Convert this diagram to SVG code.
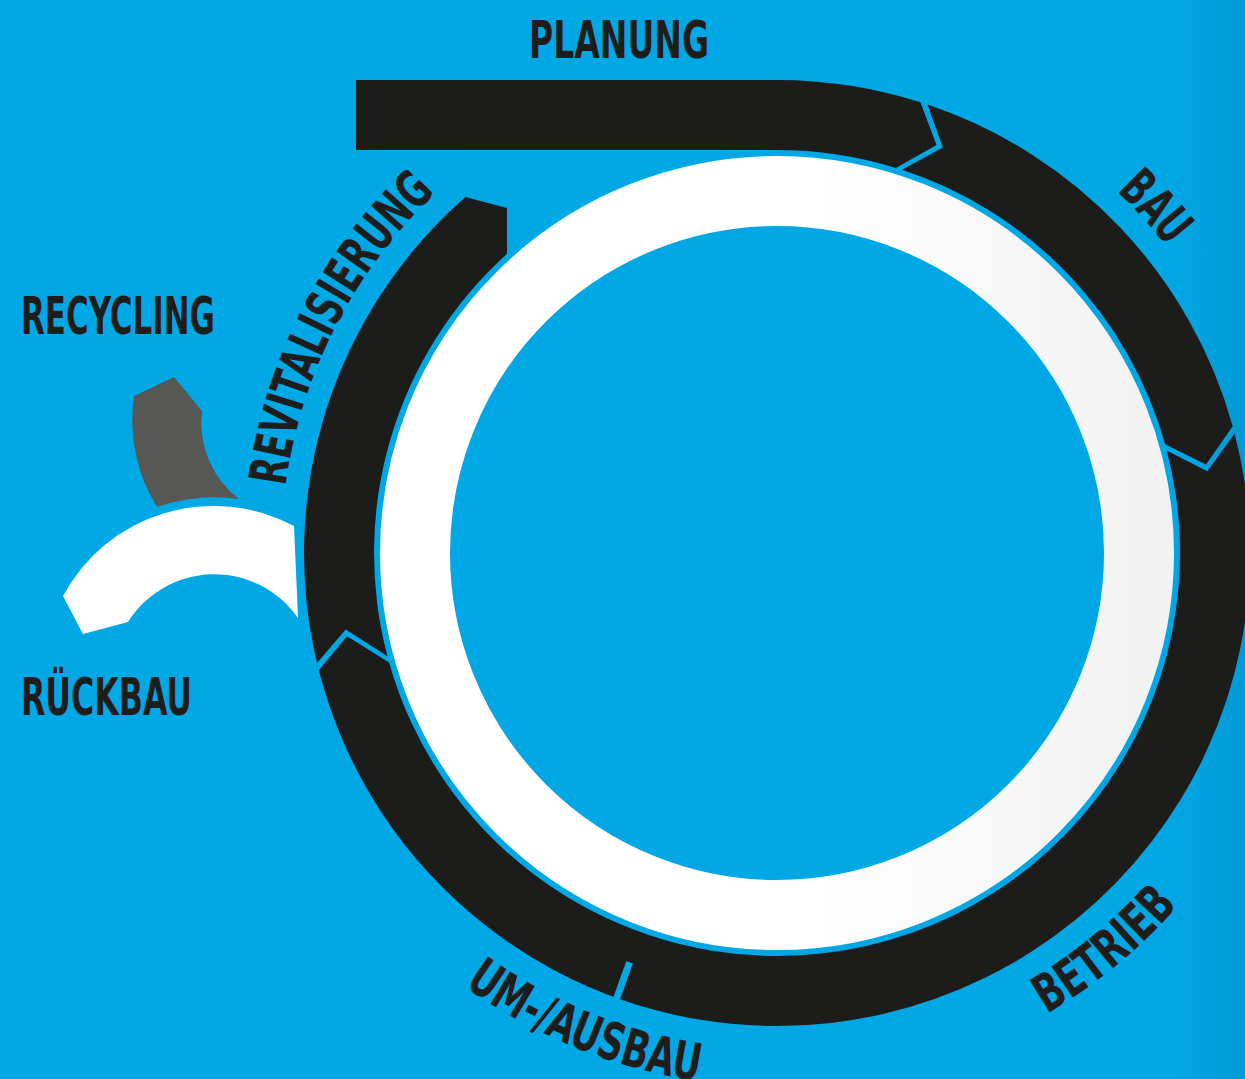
<svg xmlns="http://www.w3.org/2000/svg" width="1245" height="1079" viewBox="0 0 1245 1079">
  <defs>
    <linearGradient id="bg" x1="0" y1="0" x2="1" y2="0">
      <stop offset="0" stop-color="#00a8e6"/>
      <stop offset="0.94" stop-color="#00a7e5"/>
      <stop offset="1" stop-color="#009ad6"/>
    </linearGradient>
    <linearGradient id="ringGrad" x1="0" y1="0" x2="1" y2="0">
      <stop offset="0" stop-color="#ffffff"/>
      <stop offset="0.55" stop-color="#ffffff"/>
      <stop offset="1" stop-color="#f2f2f2"/>
    </linearGradient>
    <path id="cw" d="M 281,553 A 496 496 0 1 1 1273,553 A 496 496 0 1 1 281,553"/>
    <path id="ccw" d="M 243,553 A 534 534 0 1 0 1311,553 A 534 534 0 1 0 243,553"/>
    <style>
      .seg { fill: #1c1c1a; }
      .lbl { fill: #1d1d1b; font-family: "Liberation Sans Narrow", "DejaVu Sans Condensed", Roboto, sans-serif; font-weight: 700; font-stretch: condensed; font-size: 52px; }
      .gap { stroke: #00a8e6; stroke-width: 7; fill: none; }
    </style>
  </defs>

  <rect x="0" y="0" width="1245" height="1079" fill="url(#bg)"/>

  <g id="ring">
    <circle cx="777" cy="553" r="362" fill="none" stroke="url(#ringGrad)" stroke-width="70"/>
  </g>

  <g id="planung">
    <path class="seg" d="M 356,80 L 777,80 A 473 473 0 0 1 920.4,102.3 L 936.5,145.1 L 895.8,167.9 A 403 403 0 0 0 777,150 L 356,150 Z"/>
    <text class="lbl" x="529" y="58" textLength="180" lengthAdjust="spacingAndGlyphs">PLANUNG</text>
  </g>

  <g id="bau">
    <path class="seg" d="M 927.5,104.6 A 473 473 0 0 1 1232.7,426.2 L 1206.0,464.6 L 1165.1,444.3 A 403 403 0 0 0 901.9,169.8 L 942.8,147.6 Z"/>
    <text class="lbl"><textPath href="#cw" startOffset="1191" text-anchor="middle" textLength="76" lengthAdjust="spacingAndGlyphs">BAU</textPath></text>
  </g>

  <g id="betrieb">
    <path class="seg" d="M 1234.6,433.4 A 473 473 0 0 1 777,1026 A 473 473 0 0 1 318.8,670.2 L 347.0,636.2 L 389.1,662.4 A 403 403 0 0 0 777,956 A 403 403 0 0 0 1166.7,450.4 L 1207.3,471.3 Z"/>
    <text class="lbl"><textPath href="#ccw" startOffset="1207" text-anchor="middle" textLength="171" lengthAdjust="spacingAndGlyphs">BETRIEB</textPath></text>
  </g>

  <g id="umausbau">
    <line class="gap" x1="629.6" y1="962.3" x2="614.4" y2="1004.7"/>
    <text class="lbl"><textPath href="#ccw" startOffset="632" text-anchor="middle" textLength="255" lengthAdjust="spacingAndGlyphs">UM-/AUSBAU</textPath></text>
  </g>

  <g id="revitalisierung">
    <path class="seg" d="M 317.0,663.0 A 473 473 0 0 1 465.4,197.1 L 507,208 L 507,253.8 A 403 403 0 0 0 387.5,656.3 L 345.7,629.4 Z"/>
    <text class="lbl"><textPath href="#cw" startOffset="235" text-anchor="middle" textLength="336" lengthAdjust="spacingAndGlyphs">REVITALISIERUNG</textPath></text>
  </g>

  <g id="rueckbau">
    <path fill="#ffffff" d="M 63,596 A 171 171 0 0 1 294,526 L 298,618 A 102 102 0 0 0 128,622 L 83,634 Z"/>
    <text class="lbl" x="21" y="715" textLength="171" lengthAdjust="spacingAndGlyphs">RÜCKBAU</text>
  </g>

  <g id="recycling">
    <path fill="#575756" d="M 134,396 L 174,377 L 202,411 A 96 96 0 0 0 239,499 A 180 180 0 0 0 157,507 A 165 165 0 0 1 134,396 Z"/>
    <text class="lbl" x="21" y="334" textLength="194" lengthAdjust="spacingAndGlyphs">RECYCLING</text>
  </g>

  <g id="connectors"></g>
</svg>
